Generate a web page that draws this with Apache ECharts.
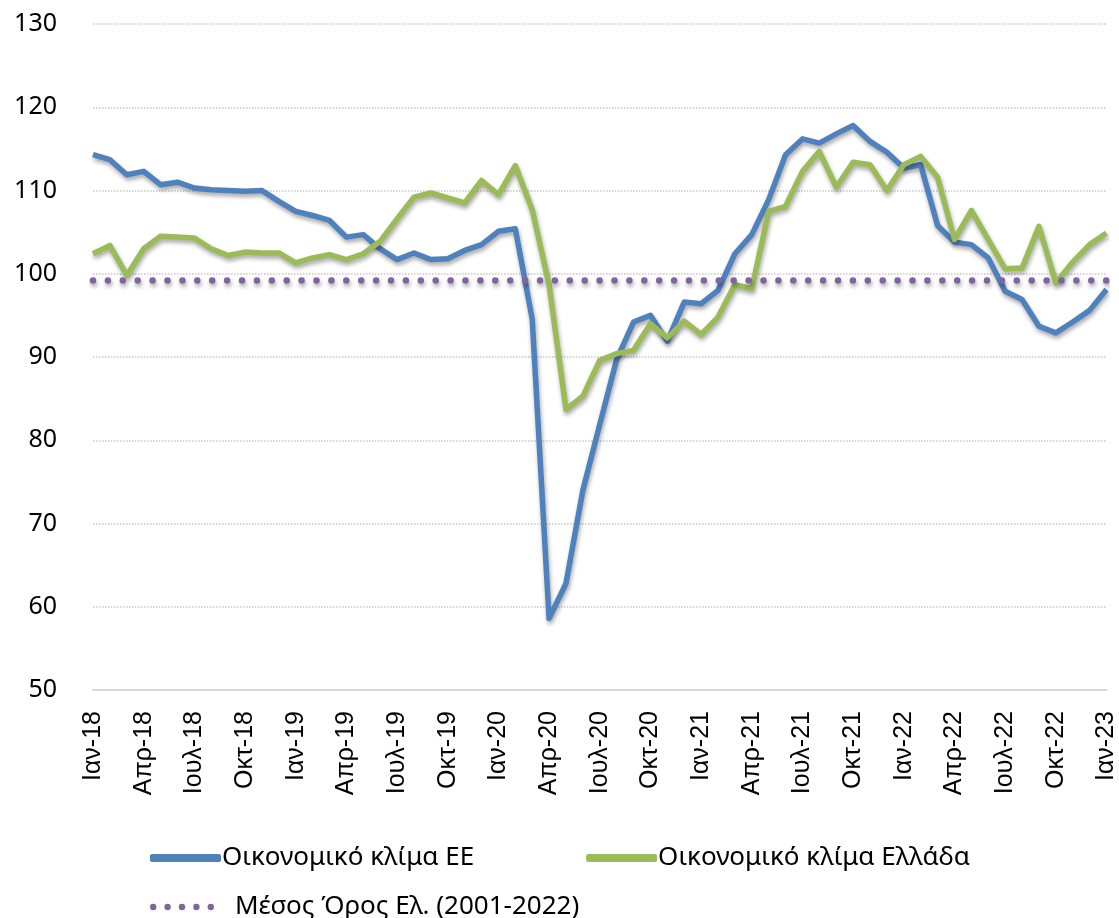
<!DOCTYPE html>
<html>
<head>
<meta charset="utf-8">
<script src="https://cdn.jsdelivr.net/npm/echarts@6/dist/echarts.min.js"></script>
<style>
  html, body { margin: 0; padding: 0; background: #fff; }
  #chart { width: 1119px; height: 918px; }
</style>
</head>
<body>
<div id="chart"></div>
<script>
// μήνες Ιαν-18 ... Ιαν-23
const monthNames = ['Ιαν', 'Φεβ', 'Μαρ', 'Απρ', 'Μαϊ', 'Ιουν', 'Ιουλ', 'Αυγ', 'Σεπ', 'Οκτ', 'Νοε', 'Δεκ'];
const years = ['18', '19', '20', '21', '22', '23'];
const months = [];
years.forEach(y => monthNames.forEach(m => months.push(m + '-' + y)));
months.length = 61;

const climateEU = [
  114.3, 113.7, 111.9, 112.3, 110.7, 111.0, 110.3, 110.1, 110.0, 109.9, 110.0, 108.7,
  107.5, 107.0, 106.4, 104.4, 104.7, 103.0, 101.7, 102.5, 101.7, 101.8, 102.8, 103.5,
  105.1, 105.4, 94.6, 58.6, 62.8, 74.0, 81.9, 89.7, 94.2, 95.0, 91.9, 96.6,
  96.4, 98.0, 102.4, 104.7, 108.9, 114.3, 116.2, 115.7, 116.8, 117.8, 115.9, 114.6,
  112.7, 113.1, 105.8, 103.8, 103.5, 101.9, 97.9, 96.9, 93.7, 92.9, 94.2, 95.6,
  98.1
];
const climateGR = [
  102.4, 103.4, 99.8, 103.0, 104.5, 104.4, 104.3, 103.0, 102.2, 102.6, 102.5, 102.5,
  101.3, 101.9, 102.3, 101.7, 102.4, 103.9, 106.6, 109.2, 109.7, 109.1, 108.5, 111.2,
  109.5, 113.0, 107.7, 98.7, 83.7, 85.3, 89.6, 90.4, 90.8, 94.0, 92.3, 94.3,
  92.7, 94.8, 98.7, 98.2, 107.5, 108.1, 112.3, 114.7, 110.4, 113.4, 113.1, 110.0,
  113.1, 114.1, 111.6, 104.1, 107.6, 104.1, 100.6, 100.7, 105.7, 98.9, 101.4, 103.5,
  104.9
];
const meanGR = 99.2;

const nameEU = 'Οικονομικό κλίμα ΕΕ';
const nameGR = 'Οικονομικό κλίμα Ελλάδα';
const nameMean = 'Μέσος Όρος Ελ. (2001-2022)';

// πέντε κουκκίδες για το υπόμνημα του μέσου όρου
function dot(cx) {
  return 'M' + (cx - 3.2) + ',3.2a3.2,3.2 0 1,0 6.4,0a3.2,3.2 0 1,0 -6.4,0Z';
}
const dotsIcon = 'path://' + [3.2, 17.6, 32, 46.4, 60.8].map(dot).join('');

const chart = echarts.init(document.getElementById('chart'));
const shadow = { shadowColor: 'rgba(0,0,0,0.35)', shadowBlur: 4, shadowOffsetX: 1, shadowOffsetY: 3 };

chart.setOption({
  animation: false,
  textStyle: { fontFamily: 'Liberation Sans, Arial, sans-serif' },
  grid: { left: 93, right: 6, top: 24, bottom: 228 },
  legend: [
    {
      data: [nameEU, nameGR],
      left: 145, top: 840,
      itemWidth: 71, itemHeight: 8, itemGap: 112,
      icon: 'roundRect',
      textStyle: { fontFamily: 'Noto Sans', fontSize: 26, color: '#000', padding: [0, 0, 0, -4] }
    },
    {
      data: [nameMean],
      left: 145, top: 889,
      itemWidth: 64, itemHeight: 6.4,
      icon: dotsIcon,
      textStyle: { fontFamily: 'Noto Sans', fontSize: 26, color: '#000', padding: [0, 0, 0, 16] }
    }
  ],
  xAxis: {
    type: 'category',
    data: months,
    boundaryGap: false,
    axisLine: { lineStyle: { color: '#d9d9d9', width: 2 } },
    axisTick: { show: false },
    axisLabel: { interval: 2, rotate: 90, margin: 21, fontSize: 25, color: '#000' },
    splitLine: { show: false }
  },
  yAxis: {
    type: 'value',
    min: 50, max: 130, interval: 10,
    axisLine: { show: false },
    axisTick: { show: false },
    axisLabel: { fontFamily: 'Noto Sans', fontSize: 25, color: '#000', margin: 36 },
    splitLine: { lineStyle: { type: 'dotted', color: '#c6c6c6', width: 1.5 } }
  },
  series: [
    {
      name: nameEU, type: 'line', data: climateEU, symbol: 'none',
      lineStyle: Object.assign({ color: '#4f81bd', width: 5.5, join: 'round' }, shadow),
      itemStyle: { color: '#4f81bd' }
    },
    {
      name: nameGR, type: 'line', data: climateGR, symbol: 'none',
      lineStyle: Object.assign({ color: '#9bbb59', width: 5.5, join: 'round' }, shadow),
      itemStyle: { color: '#9bbb59' }
    },
    {
      name: nameMean, type: 'line', symbol: 'none',
      data: [[months[0], meanGR], [months[months.length - 1], meanGR]],
      lineStyle: Object.assign({ color: '#8064a2', width: 6.5, type: [0, 14.9], cap: 'round' }, shadow),
      itemStyle: { color: '#8064a2' }
    }
  ]
});
</script>
</body>
</html>
